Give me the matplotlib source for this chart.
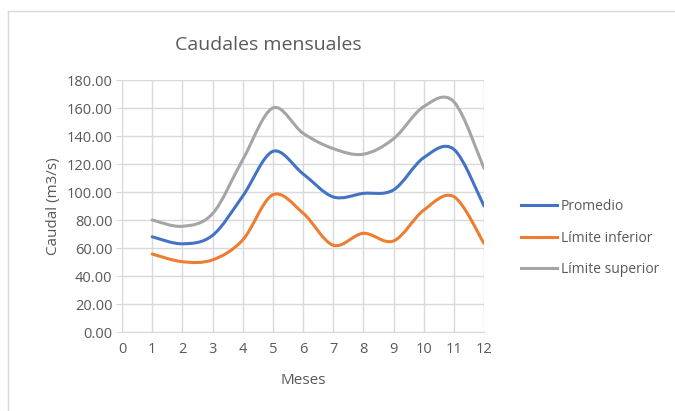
import matplotlib
matplotlib.use('Agg')
import matplotlib.pyplot as plt
import numpy as np
from matplotlib.path import Path
from matplotlib.patches import PathPatch
from matplotlib.lines import Line2D

# Datos
meses = [1, 2, 3, 4, 5, 6, 7, 8, 9, 10, 11, 12]
promedio = [68, 63, 69, 97, 129, 113, 96.5, 99, 101.5, 124.5, 130.5, 90]
limite_inferior = [55.7, 50.2, 51.5, 65.7, 98, 85, 62, 70.5, 65, 87, 96.7, 63.3]
limite_superior = [80, 75.5, 84.5, 123, 160, 142, 131, 127, 138, 161, 164.5, 117]
etiquetas = ['Promedio', 'Límite inferior', 'Límite superior']
colores = ['#4472C4', '#ED7D31', '#A5A5A5']

TXT = '#595959'
plt.rcParams.update({'font.family': ['Open Sans', 'DejaVu Sans'], 'font.size': 10})


def curva_suave(x, y):
    """Path Bezier tipo Excel (Catmull-Rom) que pasa por los puntos"""
    x = np.asarray(x, float)
    y = np.asarray(y, float)
    pts = np.column_stack([x, y])
    verts = [pts[0]]
    codes = [Path.MOVETO]
    n = len(pts)
    for i in range(n - 1):
        p0 = pts[i - 1] if i > 0 else pts[i]
        p1 = pts[i]
        p2 = pts[i + 1]
        p3 = pts[i + 2] if i + 2 < n else pts[i + 1]
        c1 = p1 + (p2 - p0) / 6.0
        c2 = p2 - (p3 - p1) / 6.0
        verts += [c1, c2, p2]
        codes += [Path.CURVE4] * 3
    return Path(verts, codes)


fig = plt.figure(figsize=(6.75, 4.11), dpi=100)

# Marco del gráfico
fig.add_artist(plt.Line2D([8 / 675, 8 / 675], [0, 1 - 11 / 411], transform=fig.transFigure,
                          color='#D9D9D9', lw=1))
fig.add_artist(plt.Line2D([8 / 675, 1], [1 - 11 / 411, 1 - 11 / 411], transform=fig.transFigure,
                          color='#D9D9D9', lw=1))

ax = fig.add_axes([122 / 675, 79 / 411, 362 / 675, 252 / 411])

series = [promedio, limite_inferior, limite_superior]
handles = []
for vals, lab, col in zip(series, etiquetas, colores):
    patch = PathPatch(curva_suave(meses, vals), facecolor='none', edgecolor=col,
                      lw=2.2, capstyle='round', joinstyle='round', zorder=3)
    ax.add_patch(patch)
    handles.append(Line2D([], [], color=col, lw=2.2, label=lab))

ax.set_xlim(0, 12)
ax.set_ylim(0, 180)
ax.set_xticks(range(0, 13))
ax.set_yticks(range(0, 181, 20))
ax.set_yticklabels([f'{v:.2f}' for v in range(0, 181, 20)])
ax.grid(True, color='#D9D9D9', lw=1)
ax.set_axisbelow(True)
for s in ['top', 'right']:
    ax.spines[s].set_visible(False)
for s in ['left', 'bottom']:
    ax.spines[s].set_color('#D9D9D9')
ax.tick_params(axis='y', colors='#D9D9D9', labelcolor=TXT, length=4, labelsize=10.5, pad=3)
ax.tick_params(axis='x', length=0, labelcolor=TXT, labelsize=10.5, pad=7)

fig.text(268 / 675, 1 - 45 / 411, 'Caudales mensuales', color=TXT, fontsize=14,
         ha='center', va='center')
ax.set_xlabel('Meses', color=TXT, fontsize=11, labelpad=12)
ax.set_ylabel('Caudal (m3/s)', color=TXT, fontsize=11, labelpad=4)

leg = fig.legend(handles=handles, loc='center left', bbox_to_anchor=(508 / 675, 1 - 238 / 411),
                 frameon=False, fontsize=10, handlelength=2.6, handletextpad=0.3,
                 labelspacing=1.2, labelcolor=TXT)

plt.savefig('out.png', dpi=100)
